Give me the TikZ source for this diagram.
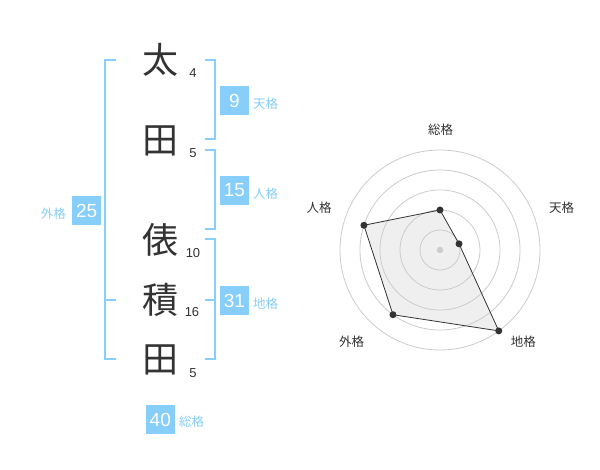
\documentclass[tikz,border=0pt]{standalone}
\usepackage{fontspec}
\usetikzlibrary{calc}
\setmainfont{Liberation Sans}
\newfontfamily\jp{Noto Sans CJK JP}
\definecolor{sky}{HTML}{87CEFA}
\definecolor{ink}{HTML}{333333}
\definecolor{ring}{HTML}{CCCCCC}
\definecolor{area}{HTML}{EFEFEF}
\begin{document}
\begin{tikzpicture}[x=1pt,y=-1pt,
  kanji/.style={font=\jp\fontsize{36}{36}\selectfont,text=ink,inner sep=0pt},
  strokes/.style={font=\fontsize{13}{13}\selectfont,text=ink,inner sep=0pt},
  valbox/.style={fill=sky,text=white,minimum width=29pt,minimum height=29pt,inner sep=0pt,font=\fontsize{19}{19}\selectfont},
  kaku/.style={font=\jp\fontsize{12.5}{12.5}\selectfont,text=sky,inner sep=0pt},
  bracket/.style={draw=sky,line width=2pt},
  axislabel/.style={font=\jp\fontsize{12.5}{12.5}\selectfont,text=ink,inner sep=0pt},
  ringline/.style={draw=ring,line width=0.8pt},
  dot/.style={circle,fill=ink,inner sep=0pt,minimum size=7pt}]
\fill[white] (0,0) rectangle (600,470);
\useasboundingbox (0,0) rectangle (600,470);
% kanji
\node[kanji] (k1) at (160,60) {太};
\node[kanji] (k2) at (160,141) {田};
\node[kanji] (k3) at (160,240) {俵};
\node[kanji] (k4) at (160,300) {積};
\node[kanji] (k5) at (160,360) {田};
% stroke counts
\node[strokes] (n1) at (193,73) {4};
\node[strokes] (n2) at (193,153) {5};
\node[strokes] (n3) at (193,253) {10};
\node[strokes] (n4) at (192,312) {16};
\node[strokes] (n5) at (193,373) {5};
% brackets
\draw[bracket] (116,60) -- (105,60) -- (105,359) -- (116,359);
\draw[bracket] (105,300) -- (116,300);
\draw[bracket] (205,60) -- (215,60) -- (215,139) -- (205,139);
\draw[bracket] (205,150) -- (215,150) -- (215,229) -- (205,229);
\draw[bracket] (205,239) -- (215,239) -- (215,359) -- (205,359);
\draw[bracket] (205,300) -- (215,300);
% value boxes
\node[valbox] (b9) at (234.5,100.5) {9};
\node[valbox] (b15) at (234.5,190.5) {15};
\node[valbox] (b25) at (86.7,210.5) {25};
\node[valbox] (b31) at (234.5,300.5) {31};
\node[valbox] (b40) at (160.3,419.7) {40};
\node[kaku] (l9) at (265.7,104) {天格};
\node[kaku] (l15) at (265.7,194) {人格};
\node[kaku] (l25) at (53.3,214) {外格};
\node[kaku] (l31) at (265.7,304) {地格};
\node[kaku] (l40) at (191.7,422) {総格};
% radar
\coordinate (c) at (440,250);
\coordinate (p1) at ($(c)+(-90:40)$);
\coordinate (p2) at ($(c)+(-18:20)$);
\coordinate (p3) at ($(c)+(54:100)$);
\coordinate (p4) at ($(c)+(126:80)$);
\coordinate (p5) at ($(c)+(198:80)$);
\fill[area] (p1) -- (p2) -- (p3) -- (p4) -- (p5) -- cycle;
\foreach \r in {20,40,60,80,100} \draw[ringline] (c) circle[radius=\r];
\draw[draw=ink,line width=0.8pt] (p1) -- (p2) -- (p3) -- (p4) -- (p5) -- cycle;
\foreach \p in {p1,p2,p3,p4,p5} \node[dot] at (\p) {};
\fill[ring] (c) circle[radius=3.2];
\node[axislabel] (a1) at (440.7,130) {総格};
\node[axislabel] (a2) at (561.7,208) {天格};
\node[axislabel] (a3) at (319,208) {人格};
\node[axislabel] (a4) at (351.7,341.7) {外格};
\node[axislabel] (a5) at (523.3,341.7) {地格};
\end{tikzpicture}
\end{document}
